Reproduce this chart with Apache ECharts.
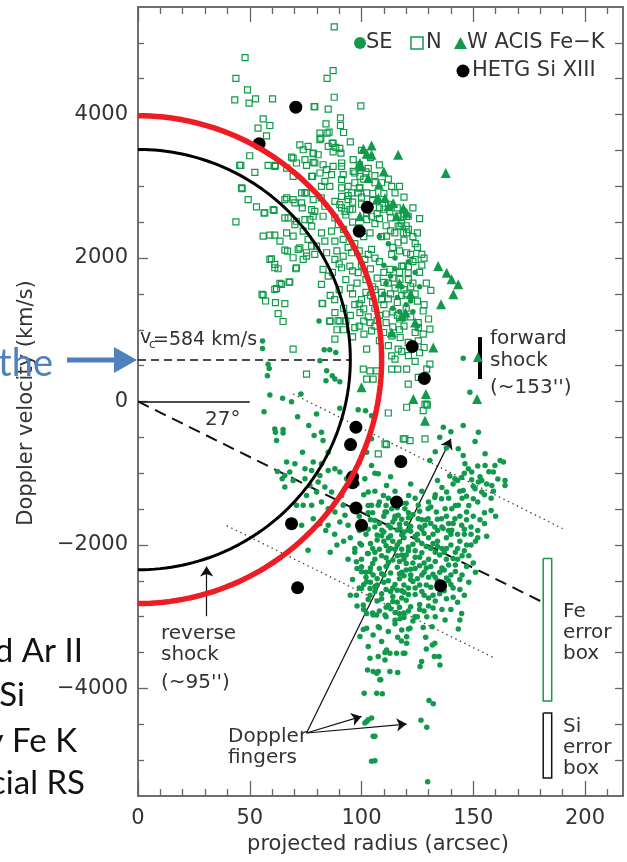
<!DOCTYPE html>
<html><head><meta charset="utf-8">
<script src="https://cdn.jsdelivr.net/npm/echarts@6/dist/echarts.min.js"></script>
<style>html,body{margin:0;padding:0;background:#fff}#c{width:627px;height:862px}</style>
</head><body><div id="c"></div>
<script>
// ---- axes ----
const xTicks=[0,50,100,150,200];
const xMinor=[10,20,30,40,60,70,80,90,110,120,130,140,160,170,180,190,210];
const yTicks=[-4000,-2000,0,2000,4000];
const yMinor=[-5000,-4500,-3500,-3000,-2500,-1500,-1000,-500,500,1000,1500,2500,3000,3500,4500,5000];

// ---- data: [projected radius (arcsec), Doppler velocity (km/s)] ----
const seData=[
[55.7,845],[55.7,739],[81,1123],[83.3,720],[85.8,720],[88.5,684],[58.2,521],[58.7,461],[57.9,359],[81.4,567],[84.4,428],[86.9,359],[88.1,313],[84.1,289],[90.3,275],[59,90],[64.7,44],[68.7,-3],[72.9,104],[56.4,-142],[71.4,-211],[79.9,-174],[90.3,-95],[61.2,-382],[64.9,-392],[61.5,-428],[64.9,-438],[62,-545],[76.4,-336],[78.8,-475],[82.1,-428],[82.8,-545],[73.6,-706],[85.1,-706],[66.5,-845],[70.2,-869],[74.7,-938],[78.4,-845],[82.1,-869],[62.4,-975],[65.7,-1031],[67.9,-984],[64.5,-1077],[69.4,-1101],[65.7,-1193],[74.7,-1077],[77.7,-962],[81.4,-1031],[85.1,-962],[88.1,-938],[90.3,-984],[93.3,-1077],[76.9,-1170],[80.6,-1123],[83.6,-1193],[75.4,-1309],[79.9,-1262],[86.6,-1262],[91.1,-1309],[70.9,-1448],[73.9,-1448],[77.7,-1448],[82.1,-1401],[85.1,-1494],[88.1,-1540],[91.8,-1448],[92.6,-1587],[78.4,-1633],[81.4,-1703],[73.2,-1726],[85.1,-1726],[90.3,-1680],[94,-1726],
[104.5,-1448],[103,-1262],[101.5,-1077],[104.5,-892],[102.3,-706],[104.5,-521],[98.5,-114],[101.8,-128],[104.5,-197],[99,-850],[106,-1000],
[145.5,604],[148.5,128],[145.5,-336],[152.3,-428],[150.8,-559],[136.6,-359],[135,-500],[138,-650],[133,-700],[140,-420],[130.6,-823],[143.3,-660],[145.5,-753],[146.3,-869],[147.8,-938],[149.3,-984],[141.8,-1077],[144.8,-1060],[149.3,-1090],[152.3,-1123],[139.5,-1040],[155.3,-892],[155.3,-730],[162,-823],[163.5,-845],[159.7,-892],[159,-984],[158.3,-1170],[164.2,-1170],[164.2,-1101],[153.8,-1101],[145.5,-1240],[150.8,-1216],[153.8,-1262],[150,-1355],[138.1,-1262],[135.8,-1355],[132.8,-1340],[137.4,-1494],[140.4,-1494],[143.3,-1448],[147,-1540],[133.5,-1540],[129.8,-1633],[135.8,-1633],[141.8,-1633],[144.8,-1726],[128.4,-1726],[132.8,-1749],[136.5,-1772],[140.4,-1796],[125.4,-1633],[129.8,-1494],[119.4,-1494],[116.4,-1587],[111.2,-1540],[121.1,-1309],[125.4,-1448],[111.2,-1170],[109.8,-1309],[107.5,-1448],[110.5,-1540],[113.5,-1494],[114.9,-1633],[111.9,-1726],[109.1,-1796],[117.2,-1772],[120.9,-1796],[107.5,-1007],
[98,-1150],[101,-1300],[103,-1450],[106,-1250],[108,-1400],[105,-1550],[112,-1350],[115,-1250],[118,-1420],[121,-1550],[124,-1350],[127,-1250],[130,-1400],[133,-1300],[136,-1200],[139,-1350],[142,-1450],[145,-1350],[148,-1450],[152,-1400],[155,-1300],[158,-1350],[150,-1600],[147,-1650],[155,-1550],[160,-1600],[134,-1100],[122,-1150],[113,-1050],[96,-1500],[99,-1600],
[141,-1150],[144,-1250],[147,-1320],[150,-1180],[153,-1050],[156,-1150],[159,-1250],[161,-1080],[157,-980],[152,-900],[146,-1000],[143,-1100],[149,-1750],[152,-1800],[155,-1700],[158,-1520],[153,-1650],[146,-1780],[143,-1850],[141,-1700],[138,-1600],[156,-1880],[151,-1950],[148,-2150],[151,-2380],[146,-2700],[143,-2800],[140,-2900],[138,-2750],[136,-2900],
[95,-1900],[97,-2050],[94,-2200],[98,-2330],[96,-2480],[99,-2600],[95,-2700],[98,-2850],[100,-2000],[100,-2200],[99,-1800],
[102,-1850],[104,-1980],[103,-2120],[105,-2260],[102,-2380],[104,-2520],[106,-2650],[103,-2760],[101,-2900],[105,-2950],[106,-1750],[104,-1650],[102,-2450],[106,-2100],[101,-2550],
[108,-1700],[110,-1820],[107,-1930],[111,-2010],[109,-2150],[112,-2240],[108,-2330],[110,-2420],[107,-2560],[111,-2620],[109,-2750],[112,-2840],[108,-2920],[111,-3000],[110,-1600],[112,-1900],[107,-2470],[112,-2080],[109,-2680],[111,-2300],
[114,-1680],[116,-1790],[113,-1870],[117,-1960],[115,-2060],[118,-2140],[114,-2210],[116,-2310],[113,-2390],[117,-2470],[115,-2550],[118,-2640],[114,-2720],[116,-2800],[113,-2890],[117,-2960],[115,-3050],[118,-1860],[116,-2000],[114,-2600],[117,-2230],[113,-2050],[118,-2380],[115,-1600],
[120,-1700],[122,-1810],[119,-1900],[123,-1990],[121,-2080],[124,-2170],[120,-2260],[122,-2340],[119,-2430],[123,-2510],[121,-2600],[124,-2690],[120,-2770],[122,-2860],[119,-2950],[123,-3060],[121,-1620],[124,-1880],[122,-2420],[120,-2140],[124,-2330],[119,-2660],
[126,-1750],[128,-1840],[125,-1930],[129,-2020],[127,-2110],[130,-2200],[126,-2290],[128,-2380],[125,-2470],[129,-2560],[127,-2650],[130,-2740],[126,-2830],[128,-2920],[125,-3000],[129,-1650],[127,-1980],[126,-2560],[130,-2450],[128,-2250],
[132,-1850],[134,-1950],[131,-2050],[135,-2140],[133,-2230],[136,-2320],[132,-2410],[134,-2500],[131,-2590],[135,-2680],[133,-2780],[132,-2880],[136,-1750],[134,-2020],[131,-2300],
[138,-1900],[140,-2000],[137,-2100],[141,-2190],[139,-2280],[142,-2370],[138,-2460],[140,-2550],[137,-2640],[141,-2730],[139,-1800],[142,-2100],
[144,-1950],[146,-2080],[143,-2200],[147,-2300],[145,-2420],[148,-2520],[144,-2620],[149,-2000],[146,-1850],[150,-2250],
[103,-1780],[107,-1860],[110,-1950],[105,-2050],[108,-2060],[111,-2180],[106,-2200],[104,-2320],[109,-2400],[112,-2500],[106,-2580],[110,-2520],[113,-2650],[107,-2780],[111,-2870],[115,-2940],[119,-3010],[121,-2920],[117,-2870],[114,-2790],[118,-2740],[121,-2690],[116,-2630],[119,-2560],[122,-2480],[117,-2400],[120,-2350],[123,-2250],[119,-2200],[116,-2150],[121,-2030],[118,-2060],[114,-1950],[119,-1820],[117,-1710],[122,-1740],[125,-1850],[127,-1780],[124,-2080],[126,-2170],[129,-2320],[127,-2420],[124,-2600],[128,-2700],[126,-2900],[130,-2850],[132,-2700],[134,-2600],[133,-2450],[135,-2380],[133,-2100],[132,-1980],[130,-1900],[134,-1800],[136,-2050],[138,-2200],[137,-2350],[139,-2500],[141,-2600],[138,-2050],[140,-1850],[142,-2280],[144,-2480],[145,-2150],[147,-2000],[143,-2050],[140,-2420],[136,-2550],[131,-1700],[127,-1650],[123,-1580],[118,-1640],[113,-1760],[109,-1870],[106,-1660],[101,-1700],[103,-1550],[111,-1450],[116,-1480],[120,-1420],[126,-1530],[131,-1470],[134,-1640],[139,-1700],[144,-1600],[149,-1850],[152,-1900],
[76.1,-2074],[84,-1800],[88,-1850],[92,-1950],[89,-2000],[86,-2100],
[99.3,-1981],[97,-2100],[102.7,-2120],[97.7,-2235],[100,-2305],[100,-2375],[103.8,-2375],[105.2,-2420],[102.3,-2513],[100,-2607],[103.8,-2607],[97.7,-2700],[103.8,-2700],[100.8,-2838],[105.2,-2977],[102.3,-3162],[105.2,-3255],[103,-3417],[103.8,-3579],[102.7,-3742],[105.2,-3764],[101.2,-4066],[104.5,-4413],[102.3,-4460],[105.2,-4668],[104.5,-5015],
[108,-3153],[106.8,-3788],[108.6,-3881],[106.8,-4066],[109.3,-4075],[103,-4437],[101.5,-4483],[100.8,-3180],[106.8,-2977],[110.5,-2977],[102.3,-2954],[99.3,-3278],[115,-3100],[117.2,-3030],[121,-3170],[120.2,-3280],[117.9,-3340],[119.4,-3510],[115.7,-3510],[112.7,-3510],[110.5,-3500],[107.5,-3556],[109,-3347],[111.2,-3464],[112,-3208],[107.5,-3139],[118,-3186],[121.7,-3162],[123.9,-3000],[116.2,-3287],[120.2,-3371],[118.7,-3510],[107.5,-3764],[112.7,-3764],[116.2,-3778],[108.2,-3881],[106,-4668],[106,-5007],[110.5,-3603],
[129.2,-3000],[133,-3000],[131.6,-3139],[128.7,-3287],[132.8,-3370],[134.7,-3556],[132.6,-3556],[131.7,-3394],[126.9,-3625],[126.2,-3695],[135.1,-3672],[130.2,-4167],[132.1,-4214],[126.6,-4445],[129.2,-4543],[129.6,-5303],[137.4,-3047],[143.3,-3172],[144,-3047],[144.8,-2954],[127.6,-3150],[129,-3450],
[108,2300],[112,2200],[115,2000],[110,1900],[113,1750],[118,1600],[116,1450],[120,1350],[123,1250],[119,1150],[114,1300],[110,1500],[111,1650],[115,1850],[121,1950],[124,1800],[126,1600],[122,1400],[117,1250],[125,1050]
];
const nData=[
[47.9,4793],[43.8,4506],[49,4344],[43.3,4205],[49.7,4159],[52.6,4219],[60.2,4219],[78.8,4112],[56,3941],[53.7,3811],[59,3848],[57.5,3704],[50,3426],[52.3,3194],[45.5,3292],[58.2,3292],[61.5,3292],[46.6,2968],[49.3,2815],[53,2713],[56.7,2630],[60.5,2676],[43.8,2505],[56,2305],[59,2319],[61.2,2319],[63.5,2235],[66.5,2352],[69.4,2305],[65.7,2110],[59,1981],[61.2,1865],[70.9,1865],[64.2,1633],[62,1573],[67.6,1665],[56,1484],
[72.4,3579],[76.1,3556],[69.4,3394],[70.9,3325],[78.4,3464],[79.1,3325],[75.4,3292],[66.5,3255],[69.4,3139],[77.7,3139],[65.7,2815],[69.4,2815],[74.7,2908],[73.2,2769],[77.7,2676],[67.2,2560],[70.9,2513],[74.7,2537],[78.4,2583],[72.4,2143],[77.7,2166],[75.4,2027],
[87.8,5224],[87.3,4612],[84.6,4506],[87.8,4242],[79.1,4112],[85.1,4075],[99.7,4121],[90.6,3955],[90.6,3848],[84.1,3871],[81.4,3742],[81.8,3672],[84.6,3742],[86.9,3603],[88.5,3542],[90.8,3464],[85.1,3556],[68.7,3408],[73.9,3510],[78.4,3454],[80.6,3440],[74.7,3371],[78.4,3334],[82.8,3301],[81.4,3186],[84.4,3232],[87.3,3278],[86.6,3162],[91.1,3278],[91.8,3162],[96.3,3208],[99.3,2977],[95.6,2908],[94,2870],[91.1,2977],[83.6,3069],[82.1,3000],[85.8,3000],[78.1,3139],[73.2,2908],[75.4,2908],[78.4,2815],[82,2840],[83.6,2722],[88.1,2791],[90.3,2745],[92.6,2652],[88.1,2560],[82.8,2583],[79.1,2652],[76.9,2537],[73.5,2700],[70.2,2769],[66.5,2838],[70.2,2467],[73.9,2375],[77.7,2444],[82.1,2352],[86.6,2375],[89.6,2467],[83.6,2235],[88.1,2235],[91.8,2259],[76.1,2259],[79.9,2166],[71.7,2120],[75.4,2074],[79.1,2050],[84.4,2074],[88.1,1981],[91.8,2027],[95.6,2074],[82.8,1842],[85.1,1749],[91.1,1865],[94.8,1888],[101.5,1981],[98.5,1796],[104.5,2120],[103.8,2352],[102.3,2537],[104.5,2583],[102.3,2908],[98.5,2908],[96.3,3371],[99.3,3139],[91.1,2861],[61.2,3278],[46,3292],[46.3,2977],[56.4,2630],[60.9,2666],
[66.9,2096],[69.4,2004],[59.7,1990],[61.2,1911],[62.7,1851],[70.6,1851],[73.9,1981],[65.7,2560],
[85.5,3755],[81.4,3650],[87.3,3600],[90.3,3530],[87.3,3480],[91.1,3325],[91.1,3093],[97,3186],[99,2977],[94,2815],[94.8,2676],[91.1,2700],[102.3,2630],[112.7,2652],[116.4,2583],[120.2,2583],[117.2,2444],[114.9,2352],[120.2,2352],[116.4,2213],[120.2,2074],[113.5,2050],[118.7,1888],[117.2,1703],[112.7,1842],
[113.5,3000],[115,2908],[120.9,2583],[118.7,2583],[116.4,2444],[118.7,2352],[111.2,2305],[118,1888],[120.9,1796],
[127.6,1262],[125.4,1101],[125.4,1031],[127.6,938],[130.6,1008],[128,753],[130.6,521],[129.2,452],[120.9,243],[120.2,452],[125.4,336],[129.2,-35],[127.6,-128],[129.4,-50],[112,-160],[118.7,-521],[121.7,-545],[128.4,-521],[110.5,-591],[107.5,-730],[116.2,452],[115,591],[113.5,637],[125.4,845],
[82.4,1369],[85.9,1123],[89.5,1123],[99.3,1240],[103.8,1101],[104.5,985],[101.1,938],[109.9,962],[113.6,915],[117.3,892],[124,962],[88.1,869],[102.3,730],[116.4,730],[120.9,823],[100.8,452],[103.8,428],[106.8,428],[102.3,313],[105.2,313],[113.5,452],[75.4,382],[120.2,-80],[119.4,-521],[111.2,-600],[128.4,-40],
[55.5,1494],[57.1,1401],[61.5,1379],[65.7,1365],[62.7,1226],[64.9,1115],[69.4,730],[82.6,1365],[85.8,1115],[90.3,1123],[88.1,1240],[61.2,1564],[63.5,1647],[67.9,1665],[82.1,1633],
[93,2600],[96,2500],[99,2420],[101,2300],[97,2200],[94,2150],[99,2100],[103,2050],[106,2000],[108,1950],[100,1900],[96,1820],[104,1850],[110,1800],[107,1720],[102,1700],[98,1650],[95,1580],[105,1600],[112,1650],[115,1580],[109,1520],[104,1480],[100,1420],[96,1500],[112,1430],[118,1480],[116,1380],[110,1350],[106,1300],[101,1290],[97,1350],[120,1300],[114,1250],[108,1200],[103,1180],[117,1150],[122,1180],[111,1100],[106,1050],[119,1050],[122,1600],[124,1500],[121,1700],[125,1400],[126,1800],[123,1950],[124,2200],[122,2050],[119,2250],[117,2100],[114,2150],[111,2450],[113,2380],[108,2550],[109,2300],[106,2480],[112,2750],[110,2900],[116,2700],[108,2700],[105,2800],[100,2750],[96,2680],[92,2400],[89,2100],[90,1920],[87,1800],[93,1700],[90,1560],[86,1480],[92,1300],[88,1420],[95,1200],[99,1050],[92,1000],[96,900],[108,850],[112,780],[118,700],[121,640],[124,560],[126,680],[117,1000],[114,1040],[130,1150],[128,1350],[131,1550],[129,1650],[127,1900],[128,2000],[125,2350],[120,2450],[126,2550],[123,2700],[119,2850],[117,3000],[112,3100],[106,3050],[102,3200],[108,3300],[104,3400],[100,3500],[95,3620],[92,3750],
[97,3050],[101,3100],[94,3000],[99,3300],[103,3250],[106,3150],[109,3050],[105,2900],[100,2850],[96,2780],[103,2700],[107,2620],[110,2680],[113,2560],[118,2480],[121,2400],[123,2300],[125,2150],[127,2050],[124,1980],[121,1880],[117,1800],[114,1720],[110,1660],[106,1560],[102,1520],[99,1360],[105,1380],[109,1420],[113,1500],[119,1560],[123,1650],[120,1500],[116,1200],[111,1220],[107,1130],[101,1120],[97,1030],[93,1120],[89,1000]
];
const wData=[
[100.8,3524],[104.5,3570],[102.3,3454],[104.5,3440],[116.4,3440],[99.3,3325],[99.7,3278],[110,3208],[137.7,3186],[103,3116],[107.8,3023],[107.5,2838],[110.5,2838],[114.2,2769],[106.8,2815],[112,2722],[118.7,2699],[120.2,2630],[115.7,2583],[99.3,2583],[134.3,1888],[138.1,1796],[140.3,1703],[143.3,1633],[141.1,1494],[135.6,1355],[132.1,753],[152.1,619],[151.7,35],[128.8,104],[128.4,-267],[123.2,35],[100,197],[118,1193],[113.5,962],[119.7,1240],[122,1500],[117,1650],[124,1100]
];
const hetgData=[
[70.6,4103],[54.2,3593],[102.6,2708],[99,2374],[122.7,767],[128.1,322],[97.5,-359],[95.1,-600],[96,-1054],[96,-1133],[97.5,-1485],[100,-1726],[68.7,-1703],[117.6,-837],[115.7,-1401],[71.4,-2597],[135.4,-2569]
];

// ---- model shells: [centre velocity, velocity half-extent, radius] ----
const reverseShock=[584,2930,95];
const outerShell=[584,3400,109];
const vcLine=[[0,584],[95,584]];
const zeroLine=[[0,0],[50,0]];
const axisLine27=[[0,0],[180.6,-2791]];
const dotUpper=[[69.4,104],[190,-1772]];
const dotLower=[[39.7,-1731],[159.7,-3580]];
const fingerArrows=[[[75.4,-4622],[140,-521]],[[75.4,-4622],[100,-4390]],[[75.4,-4622],[120.2,-4497]]];
const rsArrow=[[30.7,-2995],[30.7,-2300]];
const fsBar=[[153,897],[153,313]];
const feBox=[[181.3,-2189],[185.1,-2189],[185.1,-4177],[181.3,-4177],[181.3,-2189]];
const siBox=[[181.3,-4344],[185.1,-4344],[185.1,-5248],[181.3,-5248],[181.3,-4344]];

function shell(p){const pts=[];for(let a=-90;a<=90;a+=1.5){const t=a*Math.PI/180;pts.push([p[2]*Math.cos(t),p[0]+p[1]*Math.sin(t)]);}return pts;}

const G='#119a4b', TXT='#333', F='DejaVu Sans';
function ax(kind,pos,vals,len,lab){
  const o={type:'value',position:pos,splitLine:{show:false},
    axisLine:{show:true,onZero:false,lineStyle:{color:'#666',width:1.5}},
    axisTick:{show:true,inside:true,length:len,customValues:vals,lineStyle:{color:'#666',width:1.3}},
    axisLabel:{show:!!lab}};
  if(kind==='x'){o.min=0;o.max=217;}else{o.min=-5500;o.max=5500;}
  if(lab){o.axisLabel={show:true,customValues:vals,color:TXT,fontFamily:F,fontSize:21,margin:kind==='x'?12:10,
    formatter:v=>v<0?'\u2212'+Math.abs(v):String(v)};}
  return o;
}
const chart=echarts.init(document.getElementById('c'));
function txt(x,y,s,size,opt){return Object.assign({type:'text',x:x,y:y,silent:true,style:{text:s,fill:TXT,font:size+'px "'+F+'"',align:'left',verticalAlign:'middle'}},opt||{});}
const graphics=[
  {type:'circle',shape:{cx:360,cy:43,r:6},style:{fill:G}},
  txt(366,43,'SE',21),
  {type:'rect',shape:{x:411,y:37,width:12,height:12},style:{fill:'none',stroke:G,lineWidth:1.5}},
  txt(426,43,'N',21),
  {type:'polygon',shape:{points:[[454,49],[467,49],[460.5,37]]},style:{fill:G}},
  txt(467,43,'W ACIS Fe\u2212K',21),
  {type:'circle',shape:{cx:463,cy:71,r:6.5},style:{fill:'#000'}},
  txt(472,71,'HETG Si XIII',21),
  txt(140,338,'v',19),
  txt(149,345,'c',12),
  txt(153,340,'=584 km/s',19),
  txt(205,420,'27\u00b0',20),
  txt(161,634,'reverse',20),txt(161,655,'shock',20),txt(161,683,'(~95\'\')',20),
  txt(228,737,'Doppler',20),txt(228,758,'fingers',20),
  txt(490,339,'forward',20),txt(490,361,'shock',20),txt(490,388,'(~153\'\')',20),
  txt(563,612,'Fe',20),txt(563,633,'error',20),txt(563,654,'box',20),
  txt(563,727,'Si',20),txt(563,748,'error',20),txt(563,769,'box',20),
  txt(27,403,'',21,{rotation:Math.PI/2,style:{text:'Doppler velocity (km/s)',fill:TXT,font:'21px "'+F+'"',align:'center',verticalAlign:'middle'}}),
  txt(378,845,'',21,{style:{text:'projected radius (arcsec)',fill:TXT,font:'21px "'+F+'"',align:'center',verticalAlign:'middle'}}),
  {type:'text',x:53,y:364,style:{text:'the',fill:'#4f81bd',font:'38px Lato',align:'right',verticalAlign:'middle'}},
  {type:'line',shape:{x1:67,y1:360,x2:118,y2:360},style:{stroke:'#4f81bd',lineWidth:5}},
  {type:'polygon',shape:{points:[[114,347],[137,360],[114,373]]},style:{fill:'#4f81bd'}},
  {type:'text',x:83,y:651,style:{text:'d Ar II',fill:'#111',font:'33px Lato',align:'right',verticalAlign:'middle'}},
  {type:'text',x:25,y:695,style:{text:'Si',fill:'#111',font:'33px Lato',align:'right',verticalAlign:'middle'}},
  {type:'text',x:77,y:741,style:{text:'y Fe K',fill:'#111',font:'33px Lato',align:'right',verticalAlign:'middle'}},
  {type:'text',x:85,y:783,style:{text:'cial RS',fill:'#111',font:'33px Lato',align:'right',verticalAlign:'middle'}}
];
const option={
  animation:false,
  grid:{left:138,right:4,top:7,bottom:66,containLabel:false},
  xAxis:[ax('x','bottom',xTicks,15,true),ax('x','bottom',xMinor,7,false),ax('x','top',xTicks,15,false),ax('x','top',xMinor,7,false)],
  yAxis:[ax('y','left',yTicks,10,true),ax('y','left',yMinor,6,false),ax('y','right',yTicks,8,false),ax('y','right',yMinor,8,false)],
  graphic:graphics,
  series:[
    {type:'scatter',name:'N',data:nData,symbol:'rect',symbolSize:6,itemStyle:{color:'rgba(255,255,255,0)',borderColor:G,borderWidth:1.2,opacity:1}},
    {type:'scatter',name:'SE',data:seData,symbol:'circle',symbolSize:5.5,itemStyle:{color:G,opacity:1}},
    {type:'scatter',name:'W',data:wData,symbol:'triangle',symbolSize:10,itemStyle:{color:G,opacity:1}},
    {type:'line',data:shell(outerShell),showSymbol:false,symbol:'none',lineStyle:{color:'#ee1c25',width:5.5,opacity:1},silent:true},
    {type:'line',data:shell(reverseShock),showSymbol:false,symbol:'none',lineStyle:{color:'#000',width:3,opacity:1},silent:true},
    {type:'lines',coordinateSystem:'cartesian2d',polyline:false,silent:true,lineStyle:{opacity:1},
      data:[
        {coords:vcLine,lineStyle:{type:[8,5],width:1.5,color:'#111',opacity:1}},
        {coords:zeroLine,lineStyle:{type:'solid',width:1.5,color:'#111',opacity:1}},
        {coords:axisLine27,lineStyle:{type:[12,7],width:2,color:'#111',opacity:1}},
        {coords:dotUpper,lineStyle:{type:[1.5,3.5],width:1.3,color:'#444',opacity:1}},
        {coords:dotLower,lineStyle:{type:[1.5,3.5],width:1.3,color:'#444',opacity:1}},
        {coords:fsBar,lineStyle:{type:'solid',width:4,color:'#000',opacity:1}}
      ]},
    {type:'lines',coordinateSystem:'cartesian2d',polyline:true,silent:true,lineStyle:{opacity:1},
      data:[
        {coords:feBox,lineStyle:{color:G,width:1.5,opacity:1}},
        {coords:siBox,lineStyle:{color:'#111',width:1.5,opacity:1}}
      ]},
    {type:'lines',coordinateSystem:'cartesian2d',polyline:false,silent:true,symbol:['none','arrow'],symbolSize:10,
      lineStyle:{color:'#111',width:1.2,opacity:1},
      data:fingerArrows.map(c=>({coords:c})).concat([{coords:rsArrow}])},
    {type:'scatter',name:'HETG',data:hetgData,symbol:'circle',symbolSize:13,itemStyle:{color:'#000',opacity:1}}
  ]
};
chart.setOption(option);
</script></body></html>
